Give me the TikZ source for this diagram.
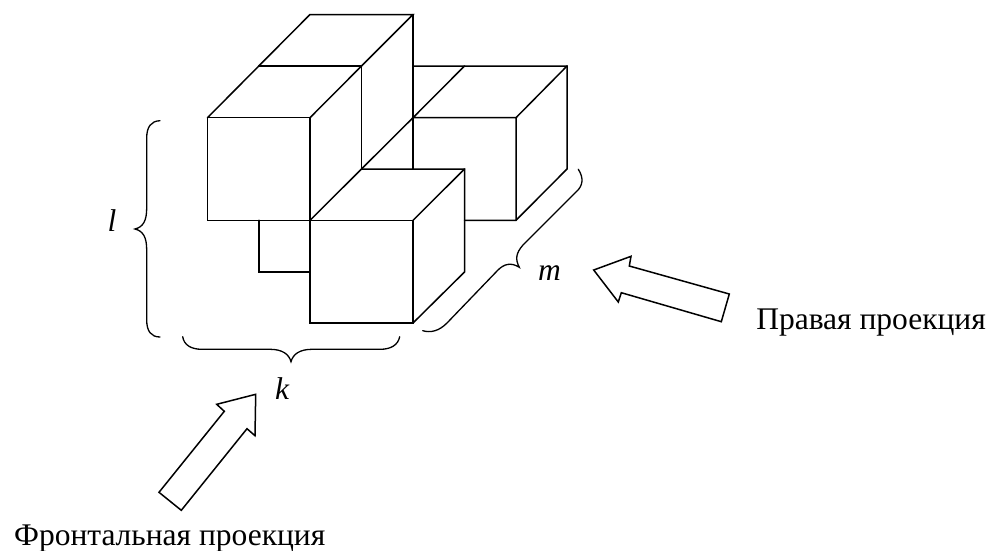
\documentclass[tikz,border=0pt]{standalone}
\usepackage{fontspec}
\setmainfont{Liberation Serif}
\tikzset{
  edge/.style={line width=1.5pt,line cap=round,line join=miter,black},
  brace/.style={line width=1.3pt,line cap=round,black},
  hollow/.style={line width=1.5pt,line join=miter,black,fill=white},
  caption/.style={inner sep=0pt,font=\fontsize{31.5}{36}\selectfont},
  var/.style={inner sep=0pt,font=\fontsize{31.5}{36}\selectfont\itshape}
}
\begin{document}
\begin{tikzpicture}[x=1pt,y=-1pt]
\useasboundingbox (0,0) rectangle (991,550);
% top bar
\draw[edge] (258.8,66) -- (310,14.5) -- (413,14.5) -- (361.5,66);
\draw[edge] (413,14.5) -- (413,169);
\draw[edge] (258.8,66) -- (361.5,66) -- (361.5,169);
% left cube
\draw[edge] (207.5,117.7) rectangle (310,220.3);
\draw[edge] (207.5,117.7) -- (258.8,66);
\draw[edge] (361.5,66) -- (310,117.7);
% right cube
\draw[edge] (413,66) -- (567,66) -- (567,169) -- (516,220.3) -- (464.5,220.3);
\draw[edge] (464.5,66) -- (413,117.7) -- (516,117.7) -- (516,220.3);
\draw[edge] (567,66) -- (516,117.7);
% front cube
\draw[edge] (413,117.7) -- (310,220.3);
\draw[edge] (361.5,169) -- (464.5,169) -- (464.5,272) -- (413,323);
\draw[edge] (464.5,169) -- (413,220.3);
\draw[edge] (310,220.3) rectangle (413,323);
% lower back cube
\draw[edge] (258.8,220.3) -- (258.8,272) -- (310,272);
% braces
\draw[brace] (160,120.7) .. controls (151,121) and (146.7,127) .. (146.7,138)
  -- (146.7,208) .. controls (146.7,221) and (143,227) .. (135,229)
  .. controls (143,231) and (146.7,237) .. (146.7,250)
  -- (146.7,320) .. controls (146.7,331) and (151,337) .. (160,337);
\draw[brace] (182.7,336.7) .. controls (184,345) and (191,349.3) .. (202,349.3)
  -- (270,349.3) .. controls (282,349.3) and (289,354) .. (291,361.7)
  .. controls (293,354) and (300,349.3) .. (312,349.3)
  -- (380,349.3) .. controls (391,349.3) and (398,345) .. (399.7,336.7);
\draw[brace] (578.3,169.3) .. controls (584,178) and (583,186) .. (576,192)
  -- (523,245) .. controls (516,253) and (515,259) .. (519.3,267.3)
  .. controls (511,262) and (504,264) .. (498,270)
  -- (447,323) .. controls (439,331) and (431,333) .. (422.7,330.7);
% view arrows
\filldraw[hollow] (593.7,270) -- (631,256.3) -- (629.3,266) -- (729.3,294) -- (721.3,321.7) -- (621.3,292.7) -- (618.3,302) -- cycle;
\filldraw[hollow] (255.7,394.3) -- (216.7,404.3) -- (224.3,411.3) -- (159,492.3) -- (181.3,510.3) -- (247,428.7) -- (255,435.7) -- cycle;
% labels
\node[var,anchor=base] (lbl) at (112,231.5) {l};
\node[var,anchor=base] (lbk) at (282,399.5) {k};
\node[var,anchor=base] (lbm) at (549.5,280.5) {m};
\node[caption,anchor=base east] (capr) at (986,329.3) {Правая проекция};
\node[caption,anchor=base east] (capf) at (325.5,545) {Фронтальная проекция};
\end{tikzpicture}
\end{document}
